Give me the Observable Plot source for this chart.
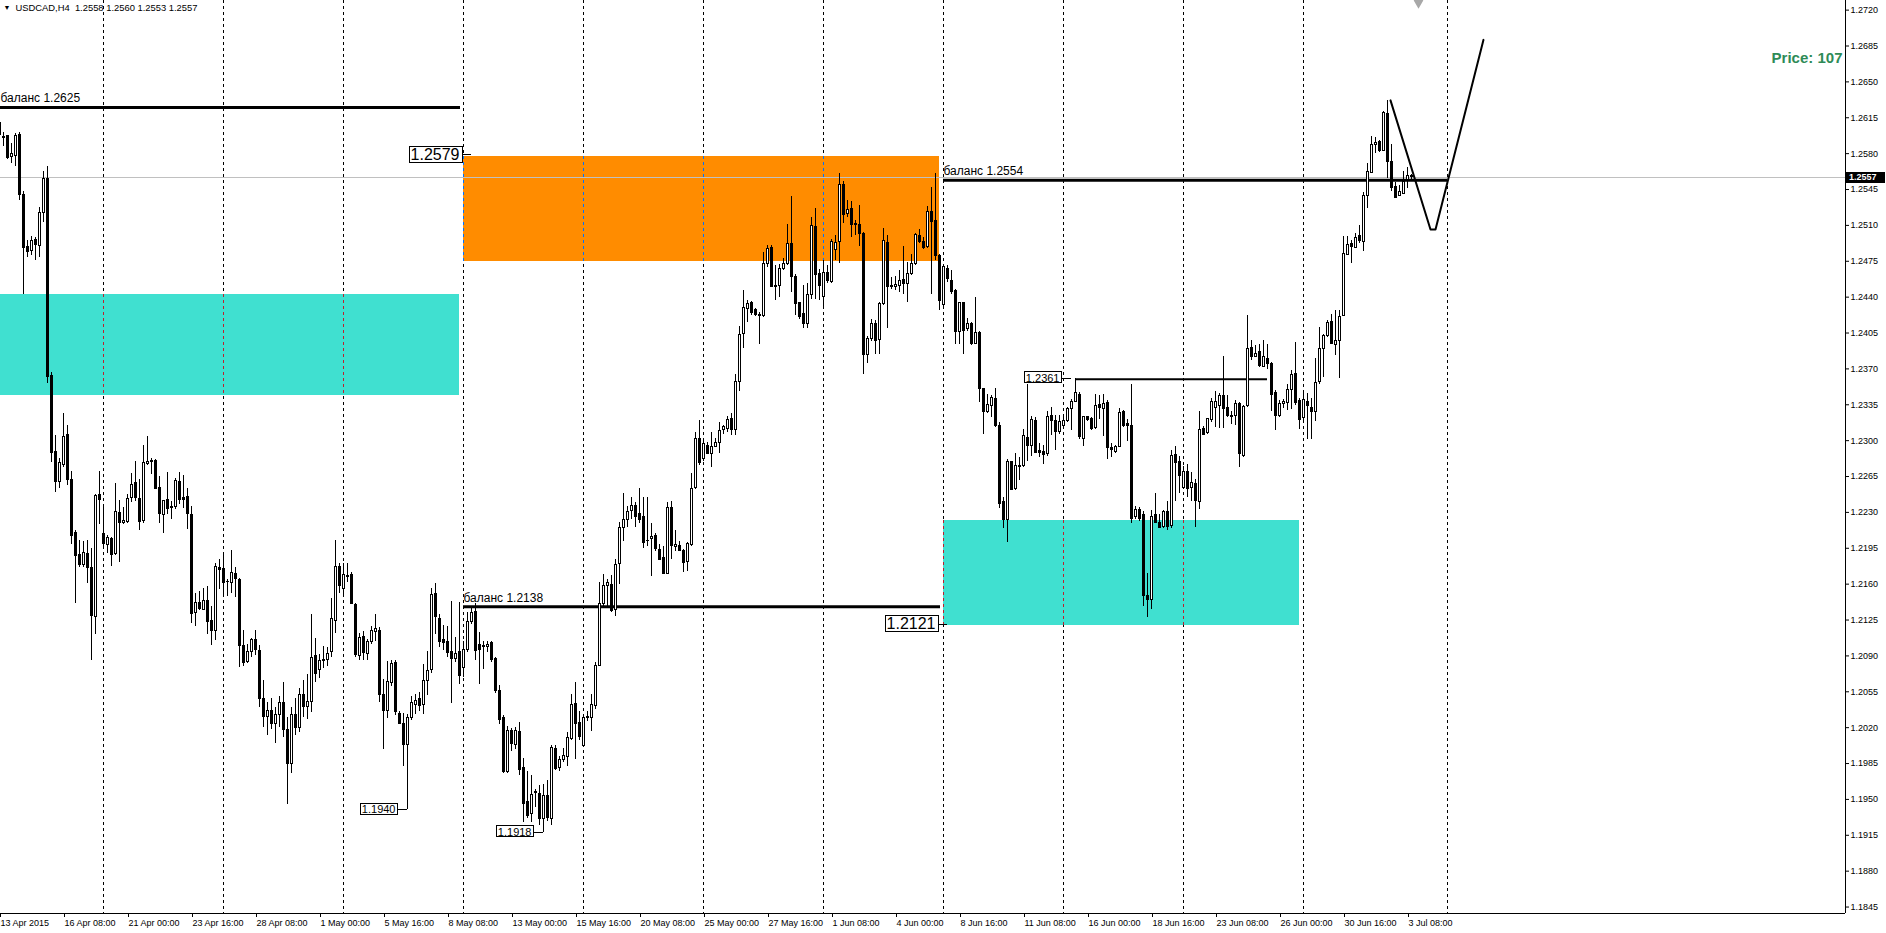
<!DOCTYPE html>
<html><head><meta charset="utf-8">
<script src="https://cdn.jsdelivr.net/npm/d3@7"></script>
<script src="https://cdn.jsdelivr.net/npm/@observablehq/plot@0.6"></script>
<style>
html,body{margin:0;padding:0;background:#fff;overflow:hidden}
#chart{position:absolute;left:0;top:0}
</style></head><body><div id="chart"></div>
<script>
// ---- candle data (bar index = position in array, H4 bars) ----
const open = [
1.2610,1.2596,1.2597,1.2577,1.2578,1.2598,1.2540,1.2489,1.2485,1.2496,
1.2490,1.2522,1.2555,1.2363,1.2289,1.2260,1.2276,1.2306,1.2262,1.2210,
1.2188,1.2179,1.2189,1.2176,1.2128,1.2247,1.2209,1.2198,1.2204,1.2189,
1.2229,1.2220,1.2221,1.2244,1.2259,1.2243,1.2222,1.2277,1.2280,1.2280,
1.2254,1.2227,1.2242,1.2235,1.2235,1.2260,1.2244,1.2245,1.2227,1.2132,
1.2142,1.2135,1.2144,1.2124,1.2114,1.2176,1.2175,1.2162,1.2161,1.2170,
1.2164,1.2100,1.2084,1.2094,1.2106,1.2095,1.2048,1.2030,1.2036,1.2024,
1.2032,1.2044,1.2018,1.1985,1.2032,1.2020,1.2052,1.2040,1.2045,1.2090,
1.2076,1.2086,1.2086,1.2094,1.2124,1.2177,1.2155,1.2168,1.2169,1.2140,
1.2090,1.2108,1.2092,1.2104,1.2113,1.2114,1.2052,1.2036,1.2064,1.2083,
1.2033,1.2024,1.2003,1.2029,1.2042,1.2048,1.2042,1.2066,1.2076,1.2150,
1.2126,1.2106,1.2104,1.2094,1.2087,1.2094,1.2078,1.2096,1.2123,1.2133,
1.2101,1.2100,1.2099,1.2103,1.2087,1.2056,1.2029,1.1977,1.2017,1.2003,
1.2016,1.1981,1.1947,1.1936,1.1957,1.1955,1.1931,1.1953,1.1931,1.1999,
1.1981,1.1988,1.1991,1.2009,1.2043,1.2025,1.2002,1.2029,1.2029,1.2041,
1.2080,1.2141,1.2158,1.2159,1.2135,1.2180,1.2215,1.2223,1.2231,1.2236,
1.2228,1.2226,1.2202,1.2204,1.2207,1.2193,1.2186,1.2170,1.2234,1.2196,
1.2197,1.2192,1.2182,1.2198,1.2254,1.2302,1.2282,1.2295,1.2287,1.2294,
1.2298,1.2310,1.2311,1.2321,1.2310,1.2357,1.2404,1.2428,1.2434,1.2427,
1.2423,1.2422,1.2472,1.2488,1.2450,1.2451,1.2467,1.2472,1.2492,1.2460,
1.2434,1.2424,1.2414,1.2442,1.2508,1.2463,1.2440,1.2464,1.2455,1.2486,
1.2494,1.2549,1.2521,1.2526,1.2511,1.2510,1.2502,1.2384,1.2399,1.2414,
1.2398,1.2433,1.2493,1.2451,1.2450,1.2451,1.2457,1.2453,1.2463,1.2472,
1.2500,1.2494,1.2489,1.2523,1.2514,1.2480,1.2432,1.2467,1.2456,1.2446,
1.2406,1.2434,1.2409,1.2414,1.2394,1.2405,1.2350,1.2328,1.2334,1.2341,
1.2314,1.2240,1.2223,1.2279,1.2253,1.2274,1.2275,1.2303,1.2295,1.2319,
1.2290,1.2289,1.2287,1.2324,1.2319,1.2308,1.2314,1.2319,1.2331,1.2338,
1.2345,1.2302,1.2323,1.2321,1.2312,1.2335,1.2331,1.2337,1.2293,1.2289,
1.2294,1.2328,1.2316,1.2314,1.2226,1.2232,1.2227,1.2148,1.2145,1.2227,
1.2220,1.2216,1.2230,1.2217,1.2286,1.2279,1.2254,1.2269,1.2254,1.2258,
1.2240,1.2311,1.2307,1.2320,1.2332,1.2334,1.2344,1.2332,1.2324,1.2324,
1.2336,1.2285,1.2334,1.2390,1.2382,1.2386,1.2372,1.2380,1.2375,1.2346,
1.2324,1.2336,1.2337,1.2349,1.2365,1.2339,1.2322,1.2338,1.2332,1.2328,
1.2357,1.2389,1.2402,1.2416,1.2393,1.2397,1.2422,1.2481,1.2492,1.2488,
1.2500,1.2494,1.2539,1.2561,1.2588,1.2591,1.2583,1.2619,1.2572,1.2547,
1.2539,1.2541,1.2554,1.2558];
const high = [
1.2612,1.2601,1.2597,1.2590,1.2600,1.2601,1.2543,1.2495,1.2499,1.2498,
1.2527,1.2563,1.2567,1.2366,1.2305,1.2283,1.2326,1.2315,1.2270,1.2212,
1.2203,1.2202,1.2203,1.2195,1.2247,1.2270,1.2235,1.2207,1.2206,1.2258,
1.2242,1.2235,1.2247,1.2268,1.2280,1.2262,1.2295,1.2304,1.2283,1.2282,
1.2265,1.2242,1.2269,1.2241,1.2263,1.2269,1.2266,1.2253,1.2236,1.2151,
1.2153,1.2156,1.2158,1.2138,1.2180,1.2184,1.2188,1.2165,1.2193,1.2176,
1.2166,1.2115,1.2101,1.2107,1.2115,1.2100,1.2066,1.2045,1.2048,1.2040,
1.2050,1.2064,1.2030,1.2040,1.2048,1.2058,1.2066,1.2072,1.2130,1.2107,
1.2091,1.2099,1.2098,1.2146,1.2203,1.2180,1.2180,1.2180,1.2171,1.2141,
1.2112,1.2114,1.2106,1.2119,1.2130,1.2118,1.2067,1.2085,1.2086,1.2086,
1.2036,1.2034,1.2033,1.2050,1.2052,1.2054,1.2082,1.2094,1.2156,1.2161,
1.2130,1.2120,1.2119,1.2143,1.2108,1.2142,1.2104,1.2132,1.2136,1.2141,
1.2113,1.2104,1.2104,1.2104,1.2088,1.2061,1.2032,1.2021,1.2019,1.2020,
1.2025,1.1990,1.1977,1.1973,1.1960,1.1964,1.1965,1.1968,1.2003,1.2003,
1.1992,1.2000,1.2015,1.2052,1.2064,1.2036,1.2033,1.2036,1.2052,1.2084,
1.2162,1.2169,1.2165,1.2168,1.2184,1.2220,1.2248,1.2236,1.2245,1.2240,
1.2253,1.2245,1.2245,1.2219,1.2209,1.2199,1.2197,1.2240,1.2241,1.2212,
1.2202,1.2194,1.2201,1.2268,1.2308,1.2320,1.2301,1.2298,1.2308,1.2302,
1.2318,1.2315,1.2324,1.2326,1.2365,1.2411,1.2446,1.2437,1.2436,1.2429,
1.2425,1.2484,1.2490,1.2490,1.2471,1.2472,1.2478,1.2511,1.2538,1.2462,
1.2435,1.2451,1.2453,1.2518,1.2526,1.2467,1.2476,1.2471,1.2496,1.2500,
1.2561,1.2553,1.2534,1.2533,1.2515,1.2529,1.2503,1.2402,1.2418,1.2417,
1.2435,1.2507,1.2500,1.2459,1.2460,1.2466,1.2489,1.2474,1.2482,1.2502,
1.2506,1.2498,1.2528,1.2547,1.2561,1.2482,1.2471,1.2471,1.2466,1.2447,
1.2435,1.2435,1.2419,1.2415,1.2440,1.2406,1.2350,1.2345,1.2344,1.2351,
1.2318,1.2245,1.2282,1.2280,1.2287,1.2284,1.2311,1.2355,1.2324,1.2323,
1.2297,1.2295,1.2328,1.2332,1.2325,1.2325,1.2324,1.2332,1.2340,1.2361,
1.2347,1.2324,1.2324,1.2323,1.2345,1.2344,1.2345,1.2339,1.2297,1.2295,
1.2331,1.2329,1.2321,1.2355,1.2236,1.2235,1.2231,1.2170,1.2232,1.2248,
1.2228,1.2232,1.2241,1.2290,1.2294,1.2285,1.2275,1.2277,1.2269,1.2262,
1.2328,1.2314,1.2322,1.2341,1.2348,1.2346,1.2382,1.2344,1.2328,1.2339,
1.2337,1.2334,1.2422,1.2398,1.2393,1.2394,1.2398,1.2394,1.2376,1.2349,
1.2339,1.2340,1.2355,1.2368,1.2396,1.2341,1.2347,1.2346,1.2341,1.2380,
1.2410,1.2404,1.2417,1.2423,1.2427,1.2427,1.2499,1.2499,1.2495,1.2502,
1.2510,1.2542,1.2570,1.2597,1.2596,1.2593,1.2621,1.2632,1.2589,1.2552,
1.2549,1.2563,1.2566,1.2560];
const low = [
1.2596,1.2587,1.2574,1.2570,1.2567,1.2534,1.2443,1.2479,1.2481,1.2476,
1.2479,1.2513,1.2356,1.2279,1.2249,1.2253,1.2274,1.2256,1.2199,1.2141,
1.2176,1.2176,1.2161,1.2086,1.2111,1.2218,1.2194,1.2190,1.2177,1.2188,
1.2181,1.2218,1.2219,1.2240,1.2241,1.2212,1.2219,1.2276,1.2267,1.2252,
1.2219,1.2209,1.2228,1.2223,1.2233,1.2238,1.2234,1.2213,1.2122,1.2119,
1.2134,1.2134,1.2111,1.2100,1.2105,1.2155,1.2148,1.2148,1.2151,1.2147,
1.2079,1.2080,1.2083,1.2088,1.2090,1.2040,1.2020,1.2012,1.2018,1.2005,
1.2020,1.2010,1.1945,1.1975,1.2012,1.2015,1.2030,1.2028,1.2035,1.2064,
1.2068,1.2078,1.2080,1.2088,1.2112,1.2151,1.2150,1.2162,1.2141,1.2088,
1.2086,1.2086,1.2086,1.2101,1.2104,1.2045,1.1999,1.2029,1.2060,1.2032,
1.2023,1.1982,1.1940,1.2027,1.2033,1.2036,1.2033,1.2051,1.2073,1.2111,
1.2098,1.2095,1.2088,1.2044,1.2084,1.2062,1.2069,1.2093,1.2121,1.2086,
1.2062,1.2077,1.2093,1.2084,1.2053,1.2023,1.1975,1.1975,1.1997,1.1999,
1.1973,1.1927,1.1931,1.1927,1.1942,1.1925,1.1918,1.1928,1.1925,1.1978,
1.1977,1.1986,1.1982,1.2007,1.1989,1.2007,1.2001,1.2026,1.2016,1.2038,
1.2080,1.2138,1.2136,1.2132,1.2128,1.2160,1.2202,1.2215,1.2223,1.2215,
1.2219,1.2195,1.2197,1.2167,1.2192,1.2183,1.2169,1.2169,1.2184,1.2192,
1.2192,1.2171,1.2172,1.2197,1.2252,1.2276,1.2280,1.2287,1.2274,1.2293,
1.2287,1.2306,1.2308,1.2305,1.2305,1.2348,1.2390,1.2415,1.2422,1.2421,
1.2394,1.2420,1.2469,1.2449,1.2437,1.2440,1.2466,1.2471,1.2445,1.2422,
1.2418,1.2409,1.2409,1.2438,1.2438,1.2437,1.2428,1.2453,1.2453,1.2476,
1.2473,1.2512,1.2518,1.2498,1.2500,1.2489,1.2365,1.2375,1.2397,1.2384,
1.2384,1.2432,1.2409,1.2447,1.2446,1.2445,1.2443,1.2435,1.2461,1.2471,
1.2492,1.2486,1.2487,1.2443,1.2476,1.2427,1.2431,1.2454,1.2443,1.2394,
1.2394,1.2384,1.2406,1.2393,1.2394,1.2337,1.2306,1.2326,1.2323,1.2313,
1.2234,1.2214,1.2201,1.2251,1.2251,1.2261,1.2274,1.2280,1.2285,1.2287,
1.2284,1.2277,1.2285,1.2305,1.2290,1.2306,1.2313,1.2318,1.2310,1.2337,
1.2301,1.2294,1.2319,1.2310,1.2311,1.2321,1.2304,1.2282,1.2284,1.2287,
1.2293,1.2313,1.2299,1.2219,1.2223,1.2221,1.2138,1.2127,1.2135,1.2219,
1.2214,1.2214,1.2212,1.2214,1.2241,1.2248,1.2253,1.2245,1.2241,1.2215,
1.2233,1.2305,1.2306,1.2318,1.2313,1.2312,1.2312,1.2323,1.2316,1.2315,
1.2274,1.2284,1.2332,1.2378,1.2381,1.2371,1.2371,1.2369,1.2328,1.2310,
1.2323,1.2331,1.2329,1.2330,1.2334,1.2311,1.2319,1.2301,1.2301,1.2319,
1.2355,1.2362,1.2401,1.2394,1.2383,1.2361,1.2421,1.2481,1.2473,1.2487,
1.2492,1.2485,1.2526,1.2561,1.2580,1.2581,1.2582,1.2556,1.2543,1.2537,
1.2538,1.2541,1.2546,1.2553];
const close = [
1.2598,1.2595,1.2576,1.2580,1.2597,1.2540,1.2488,1.2484,1.2495,1.2491,
1.2522,1.2555,1.2362,1.2288,1.2260,1.2278,1.2304,1.2262,1.2207,1.2187,
1.2179,1.2190,1.2176,1.2129,1.2246,1.2242,1.2199,1.2205,1.2188,1.2230,
1.2220,1.2222,1.2243,1.2257,1.2244,1.2221,1.2278,1.2279,1.2279,1.2253,
1.2228,1.2241,1.2233,1.2234,1.2261,1.2242,1.2242,1.2228,1.2131,1.2142,
1.2136,1.2144,1.2123,1.2114,1.2177,1.2174,1.2161,1.2162,1.2171,1.2165,
1.2100,1.2083,1.2094,1.2106,1.2096,1.2048,1.2030,1.2036,1.2024,1.2032,
1.2044,1.2018,1.1985,1.2032,1.2020,1.2052,1.2040,1.2045,1.2088,1.2072,
1.2085,1.2085,1.2092,1.2126,1.2177,1.2158,1.2169,1.2167,1.2141,1.2091,
1.2107,1.2093,1.2104,1.2114,1.2116,1.2052,1.2036,1.2065,1.2082,1.2035,
1.2024,1.2003,1.2029,1.2044,1.2046,1.2041,1.2066,1.2075,1.2149,1.2128,
1.2104,1.2103,1.2093,1.2087,1.2092,1.2070,1.2096,1.2123,1.2132,1.2095,
1.2096,1.2099,1.2101,1.2086,1.2056,1.2027,1.1977,1.2017,1.2004,1.2017,
1.1979,1.1946,1.1934,1.1954,1.1956,1.1931,1.1953,1.1932,1.2000,1.1980,
1.1988,1.1992,1.2010,1.2042,1.2024,1.2011,1.2029,1.2030,1.2042,1.2080,
1.2141,1.2158,1.2161,1.2134,1.2179,1.2215,1.2223,1.2230,1.2236,1.2226,
1.2223,1.2200,1.2202,1.2206,1.2194,1.2184,1.2170,1.2234,1.2197,1.2198,
1.2192,1.2181,1.2199,1.2253,1.2302,1.2278,1.2297,1.2287,1.2294,1.2298,
1.2309,1.2313,1.2320,1.2310,1.2357,1.2403,1.2429,1.2433,1.2425,1.2423,
1.2422,1.2472,1.2487,1.2450,1.2451,1.2467,1.2472,1.2492,1.2460,1.2433,
1.2421,1.2414,1.2442,1.2509,1.2462,1.2451,1.2464,1.2456,1.2494,1.2493,
1.2549,1.2520,1.2525,1.2510,1.2510,1.2502,1.2384,1.2399,1.2414,1.2397,
1.2433,1.2495,1.2450,1.2450,1.2452,1.2456,1.2453,1.2463,1.2472,1.2501,
1.2494,1.2488,1.2523,1.2513,1.2480,1.2436,1.2469,1.2458,1.2445,1.2406,
1.2434,1.2407,1.2414,1.2394,1.2405,1.2350,1.2328,1.2335,1.2342,1.2314,
1.2238,1.2223,1.2279,1.2252,1.2275,1.2275,1.2305,1.2295,1.2320,1.2288,
1.2288,1.2286,1.2323,1.2319,1.2308,1.2318,1.2319,1.2331,1.2338,1.2346,
1.2304,1.2323,1.2320,1.2311,1.2334,1.2332,1.2336,1.2293,1.2291,1.2294,
1.2327,1.2314,1.2314,1.2224,1.2232,1.2224,1.2148,1.2145,1.2226,1.2220,
1.2215,1.2230,1.2216,1.2285,1.2278,1.2266,1.2269,1.2253,1.2259,1.2241,
1.2310,1.2306,1.2321,1.2338,1.2338,1.2344,1.2331,1.2324,1.2323,1.2336,
1.2287,1.2333,1.2389,1.2382,1.2385,1.2373,1.2382,1.2375,1.2345,1.2324,
1.2336,1.2338,1.2349,1.2364,1.2337,1.2320,1.2340,1.2334,1.2328,1.2356,
1.2389,1.2402,1.2415,1.2394,1.2397,1.2421,1.2482,1.2491,1.2489,1.2498,
1.2495,1.2539,1.2562,1.2588,1.2590,1.2583,1.2620,1.2572,1.2546,1.2537,
1.2543,1.2552,1.2558,1.2557];

// ---- time axis ----
const timeTickBars = [0,16,32,48,64,80,96,112,128,144,160,176,192,208,224,240,256,272,288,304,320,336,352];
const timeTickLabels = ["13 Apr 2015","16 Apr 08:00","21 Apr 00:00","23 Apr 16:00","28 Apr 08:00","1 May 00:00","5 May 16:00","8 May 08:00","13 May 00:00","15 May 16:00","20 May 08:00","25 May 00:00","27 May 16:00","1 Jun 08:00","4 Jun 00:00","8 Jun 16:00","11 Jun 08:00","16 Jun 00:00","18 Jun 16:00","23 Jun 08:00","26 Jun 00:00","30 Jun 16:00","3 Jul 08:00"];
const weekSeparatorBars = [26,56,86,116,146,176,206,236,266,296,326,362];

// ---- price axis ----
const priceTicks = [1.1845,1.1880,1.1915,1.1950,1.1985,1.2020,1.2055,1.2090,1.2125,1.2160,1.2195,1.2230,1.2265,1.2300,1.2335,1.2370,1.2405,1.2440,1.2475,1.2510,1.2545,1.2580,1.2615,1.2650,1.2685,1.2720];

// ---- zones ----
const zoneStart = [-5, 116, 236];
const zoneEnd = [115, 235, 325];
const zoneTop = [1.2443, 1.2577, 1.2222];
const zoneBottom = [1.2344, 1.2475, 1.2120];
const zoneKind = ["demand", "supply", "demand"];

// ---- balance levels ----
const levelPrice = [1.2625, 1.2138, 1.2554];
const levelStart = [-5, 116, 236];
const levelEnd = [115.25, 235.25, 362];

// ---- swing high line ----
const swingPrice = [1.2360];
const swingStart = [269];
const swingEnd = [317];

// ---- price tags ----
const majorTagPrice = [1.2579, 1.2121];
const majorTagBar = [118, 237];
const minorTagPrice = [1.2361, 1.1940, 1.1918];
const minorTagBar = [268, 102, 136];

// ---- projected zigzag ----
const zigBar = [347.75, 357.75, 359, 371];
const zigPrice = [1.2632, 1.2506, 1.2506, 1.2691];

const priceIndicator = 107;
const shiftBar = [354.75];

// ---- build ----
const n = open.length;
const lastPrice = close[n - 1];
const candles = d3.range(n).map(i => ({i, o: open[i], h: high[i], l: low[i], c: close[i]}));
const zoneColor = {demand: "#40E0D0", supply: "#FF8C00"};
const zones = zoneStart.map((s, j) => ({x1: s, x2: zoneEnd[j], top: zoneTop[j], bottom: zoneBottom[j], kind: zoneKind[j]}));
const invert = c => { const r = d3.rgb(c); return d3.rgb(255 - r.r, 255 - r.g, 255 - r.b).formatHex(); };
const sepInZones = [];
zones.forEach(z => weekSeparatorBars.forEach(s => {
  if (s >= z.x1 && s <= z.x2) sepInZones.push({x: s, top: z.top, bottom: z.bottom, color: invert(zoneColor[z.kind])});
}));
const levels = levelPrice.map((p, j) => ({price: p, start: levelStart[j], end: levelEnd[j]}));
const swings = swingPrice.map((p, j) => ({price: p, start: swingStart[j], end: swingEnd[j]}));
const majorTags = majorTagPrice.map((p, j) => ({price: p, bar: majorTagBar[j]}));
const minorTags = minorTagPrice.map((p, j) => ({price: p, bar: minorTagBar[j]}));
const allTags = majorTags.concat(minorTags);
const tagStrings = new Set(allTags.map(d => d.price.toFixed(4)));
const zig = zigBar.map((b, j) => ({bar: b, price: zigPrice[j]}));
const timeMap = new Map(timeTickBars.map((b, j) => [b, timeTickLabels[j]]));

const xDom = [0.25, 461.5];
const yDom = [1.18387, 1.27294];
const titleStr = "USDCAD,H4\u00a0\u00a0" + [open[n-1], high[n-1], low[n-1], close[n-1]].map(v => v.toFixed(4)).join(" ");

const chart = Plot.plot({
  width: 1886, height: 933,
  marginLeft: 0, marginRight: 41, marginTop: 0, marginBottom: 20,
  x: {type: "linear", domain: xDom},
  y: {type: "linear", domain: yDom},
  color: {type: "identity"},
  style: {background: "white", fontFamily: "'Liberation Sans', Arial, sans-serif", fontSize: "9px", overflow: "hidden"},
  marks: [
    Plot.ruleX(weekSeparatorBars, {x: d => d, y1: yDom[1], y2: yDom[0], stroke: "#000", strokeDasharray: "3,3", shapeRendering: "crispEdges"}),
    Plot.rect(zones, {x1: "x1", x2: "x2", y1: "bottom", y2: "top", fill: d => zoneColor[d.kind], shapeRendering: "crispEdges"}),
    Plot.ruleX(sepInZones, {x: "x", y1: "top", y2: "bottom", stroke: d => d.color, strokeDasharray: "3,3", shapeRendering: "crispEdges"}),
    Plot.ruleY([lastPrice], {stroke: "#c0c0c0", shapeRendering: "crispEdges"}),
    Plot.ruleY(levels, {y: "price", x1: "start", x2: "end", stroke: "#000", strokeWidth: 3}),
    Plot.text(levels, {x: d => Math.max(d.start, xDom[0]), y: "price", text: d => "баланс " + d.price.toFixed(4), textAnchor: "start", dy: -9, fontSize: 12, fill: "#000"}),
    Plot.ruleY(swings, {y: "price", x1: "start", x2: "end", stroke: "#000", strokeWidth: 2}),
    Plot.ruleX(candles, {x: "i", y1: d => Math.min(d.l, d.o, d.c), y2: d => Math.max(d.h, d.o, d.c), stroke: "#000", shapeRendering: "crispEdges"}),
    Plot.rect(candles, {x1: d => d.i - 0.25, x2: d => d.i + 0.25, y1: "o", y2: d => d.c === d.o ? d.c + 0.00004 : d.c,
      fill: d => d.c >= d.o ? "#fff" : "#000", stroke: "#000", shapeRendering: "crispEdges"}),
    Plot.line(zig, {x: "bar", y: "price", stroke: "#000", strokeWidth: 2}),
    Plot.ruleY(allTags, {y: "price", x1: d => d.bar - 2.5, x2: "bar", stroke: "#000", shapeRendering: "crispEdges"}),
    Plot.text(majorTags, {x: "bar", y: "price", text: d => d.price.toFixed(4), textAnchor: "end", dx: -12, fontSize: 16, fill: "#000"}),
    Plot.text(minorTags, {x: "bar", y: "price", text: d => d.price.toFixed(4), textAnchor: "end", dx: -12, fontSize: 11, fill: "#000"}),
    Plot.ruleX([xDom[1]], {stroke: "#000"}),
    Plot.ruleY([yDom[0]], {stroke: "#000"}),
    Plot.axisY(priceTicks, {anchor: "right", tickSize: 3, tickPadding: 2, tickFormat: d => d.toFixed(4), fontSize: 9, label: null}),
    Plot.axisX(timeTickBars, {anchor: "bottom", tickSize: 4, tickPadding: 2, tickFormat: d => timeMap.get(d), textAnchor: "start", dx: 1, fontSize: 9, label: null}),
    Plot.text(["\u25BC"], {frameAnchor: "top-left", text: d => d, dx: 3, dy: 7, lineAnchor: "middle", textAnchor: "start", fontSize: 7, fill: "#000"}),
    Plot.text([titleStr], {frameAnchor: "top-left", text: d => d, dx: 15, dy: 7, lineAnchor: "middle", textAnchor: "start", fontSize: 9.4, fill: "#000"}),
    Plot.text([priceIndicator], {frameAnchor: "top-right", text: d => "Price: " + d, dx: -3, dy: 58, lineAnchor: "middle", textAnchor: "end", fontSize: 15, fontWeight: "bold", fill: "#2e8b57"}),
    Plot.dot(shiftBar, {x: d => d, y: yDom[1], symbol: "diamond", r: 5, fill: "#a8a8a8", stroke: "none"})
  ]
});
document.getElementById("chart").appendChild(chart);

// boxes around price tags (found by their text)
const NS = "http://www.w3.org/2000/svg";
Array.from(chart.querySelectorAll("text")).forEach(function(el) {
  if (el.querySelector("tspan")) return;
  if (!tagStrings.has(el.textContent.trim())) return;
  const b = el.getBBox();
  const r = document.createElementNS(NS, "rect");
  r.setAttribute("x", Math.floor(b.x) - 1.5);
  r.setAttribute("y", Math.floor(b.y) + 0.5);
  r.setAttribute("width", Math.ceil(b.width) + 3);
  r.setAttribute("height", Math.ceil(b.height) - 1);
  r.setAttribute("fill", "#fff");
  r.setAttribute("stroke", "#000");
  r.setAttribute("shape-rendering", "crispEdges");
  const t = el.getAttribute("transform");
  if (t) r.setAttribute("transform", t);
  el.parentNode.insertBefore(r, el);
});

// current price box on the price axis
const ys = chart.scale("y");
const xs = chart.scale("x");
const yf = ys.apply ? (v => ys.apply(v)) : d3.scaleLinear(ys.domain, ys.range);
const axisPos = xs.range[1];
const yy = yf(lastPrice);
const svg = d3.select(chart);
svg.append("rect").attr("x", axisPos + 1).attr("y", Math.round(yy) - 5).attr("width", 39).attr("height", 11).attr("fill", "#000");
svg.append("text").attr("x", axisPos + 4).attr("y", yy).attr("dy", "0.35em").attr("fill", "#fff")
  .attr("font-size", 9).attr("font-weight", "bold").attr("text-anchor", "start").text(lastPrice.toFixed(4));
</script>
</body></html>
